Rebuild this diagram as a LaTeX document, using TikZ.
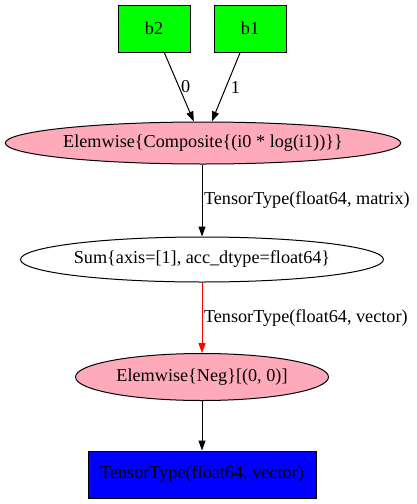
\documentclass[tikz,border=0pt]{standalone}
\usepackage{fontspec}
\setmainfont{Liberation Serif}
\usetikzlibrary{shapes.geometric,arrows.meta}
\definecolor{opcol}{HTML}{FFAABB}
\begin{document}
\begin{tikzpicture}[x=1pt,y=-1pt,
  font=\fontsize{18.2}{21}\selectfont,
  every node/.style={inner sep=0pt},
  inbox/.style={draw=black, line width=1pt, fill=green, minimum width=72pt, minimum height=47pt},
  outbox/.style={draw=black, line width=1pt, fill=blue, minimum width=228pt, minimum height=47pt},
  opnode/.style={draw=black, line width=1pt, ellipse},
  conn/.style={line width=1pt, -{Triangle[length=10pt,width=7pt]}},
  elabel/.style={right, inner sep=1.5pt}]
\useasboundingbox (0,0) rectangle (417,504);
\node[inbox] (b2) at (154,28.5) {b2};
\node[inbox] (b1) at (250,28.5) {b1};
\node[opnode, fill=opcol, minimum width=395pt, minimum height=42pt] (comp) at (203,143) {Elemwise\{Composite\{(i0 * log(i1))\}\}};
\node[opnode, fill=white, minimum width=363pt, minimum height=45pt] (sum) at (202,259.5) {Sum\{axis=[1], acc\_dtype=float64\}};
\node[opnode, fill=opcol, minimum width=253pt, minimum height=47pt] (neg) at (202,377) {Elemwise\{Neg\}[(0, 0)]};
\node[outbox] (out) at (202,474.5) {TensorType(float64, vector)};
\draw[conn] (b2) -- node[elabel] {0} (comp);
\draw[conn] (b1) -- node[elabel, xshift=3pt] {1} (comp);
\draw[conn] (comp.south -| 202,0) -- node[elabel] {TensorType(float64, matrix)} (sum);
\draw[conn, red] (sum) -- node[elabel, black] {TensorType(float64, vector)} (neg);
\draw[conn] (neg) -- (out);
\end{tikzpicture}
\end{document}
